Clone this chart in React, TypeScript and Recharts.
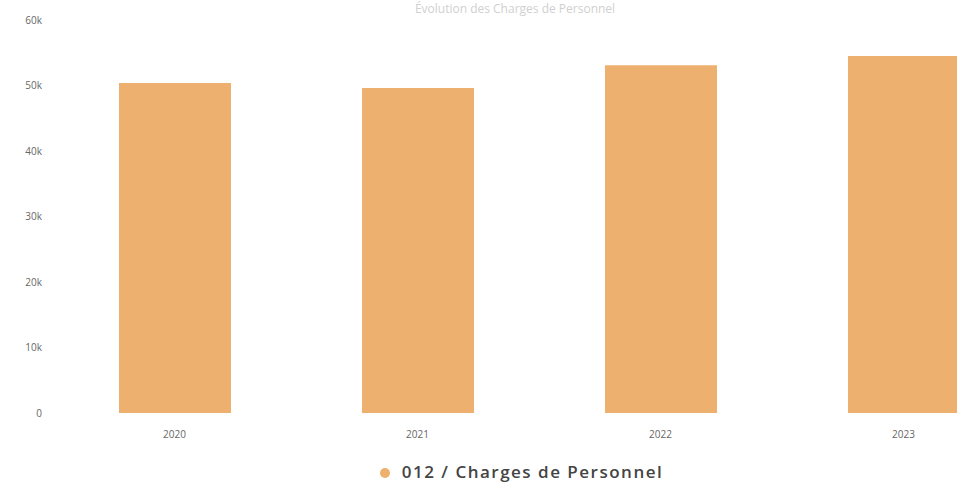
import React from "react";
import { BarChart, Bar, XAxis, YAxis, Legend } from "recharts";

const years = ["2020", "2021", "2022", "2023"];
const personnel = [50.4, 49.6, 53.1, 54.5];
const yTicks = [0, 10, 20, 30, 40, 50, 60];

const data = years.map((y, i) => ({ year: y, value: personnel[i] }));

export default function App() {
  return (
    <div
      style={{
        position: "absolute",
        left: 0,
        top: 0,
        width: 957,
        height: 491,
        overflow: "hidden",
        background: "#fff",
        fontFamily: "'Open Sans', sans-serif",
      }}
    >
      <BarChart
        width={1030}
        height={491}
        data={data}
        margin={{ top: 20, right: 5, left: 0, bottom: 0 }}
      >
        <text
          x={515}
          y={13}
          textAnchor="middle"
          fontSize={12}
          fill="#d0d0d0"
        >
          Évolution des Charges de Personnel
        </text>
        <XAxis
          dataKey="year"
          axisLine={false}
          tickLine={false}
          height={47}
          tick={{ fill: "#666", fontSize: 10 }}
          tickMargin={12}
        />
        <YAxis
          domain={[0, 60]}
          ticks={yTicks}
          width={53}
          axisLine={false}
          tickLine={false}
          tick={{ fill: "#666", fontSize: 10, dx: -3 }}
          tickFormatter={(v: number) => (v === 0 ? "0" : `${v}k`)}
        />
        <Legend
          verticalAlign="bottom"
          height={31}
          iconType="circle"
          iconSize={10}
          formatter={(value: string) => (
            <span
              style={{
                color: "#444",
                fontWeight: 600,
                letterSpacing: 1.5,
                paddingLeft: 8,
              }}
            >
              {value}
            </span>
          )}
          wrapperStyle={{ fontSize: 17, left: 14 }}
        />
        <Bar
          dataKey="value"
          name="012 / Charges de Personnel"
          fill="#EEB06E"
          barSize={112}
          isAnimationActive={false}
        />
      </BarChart>
    </div>
  );
}
